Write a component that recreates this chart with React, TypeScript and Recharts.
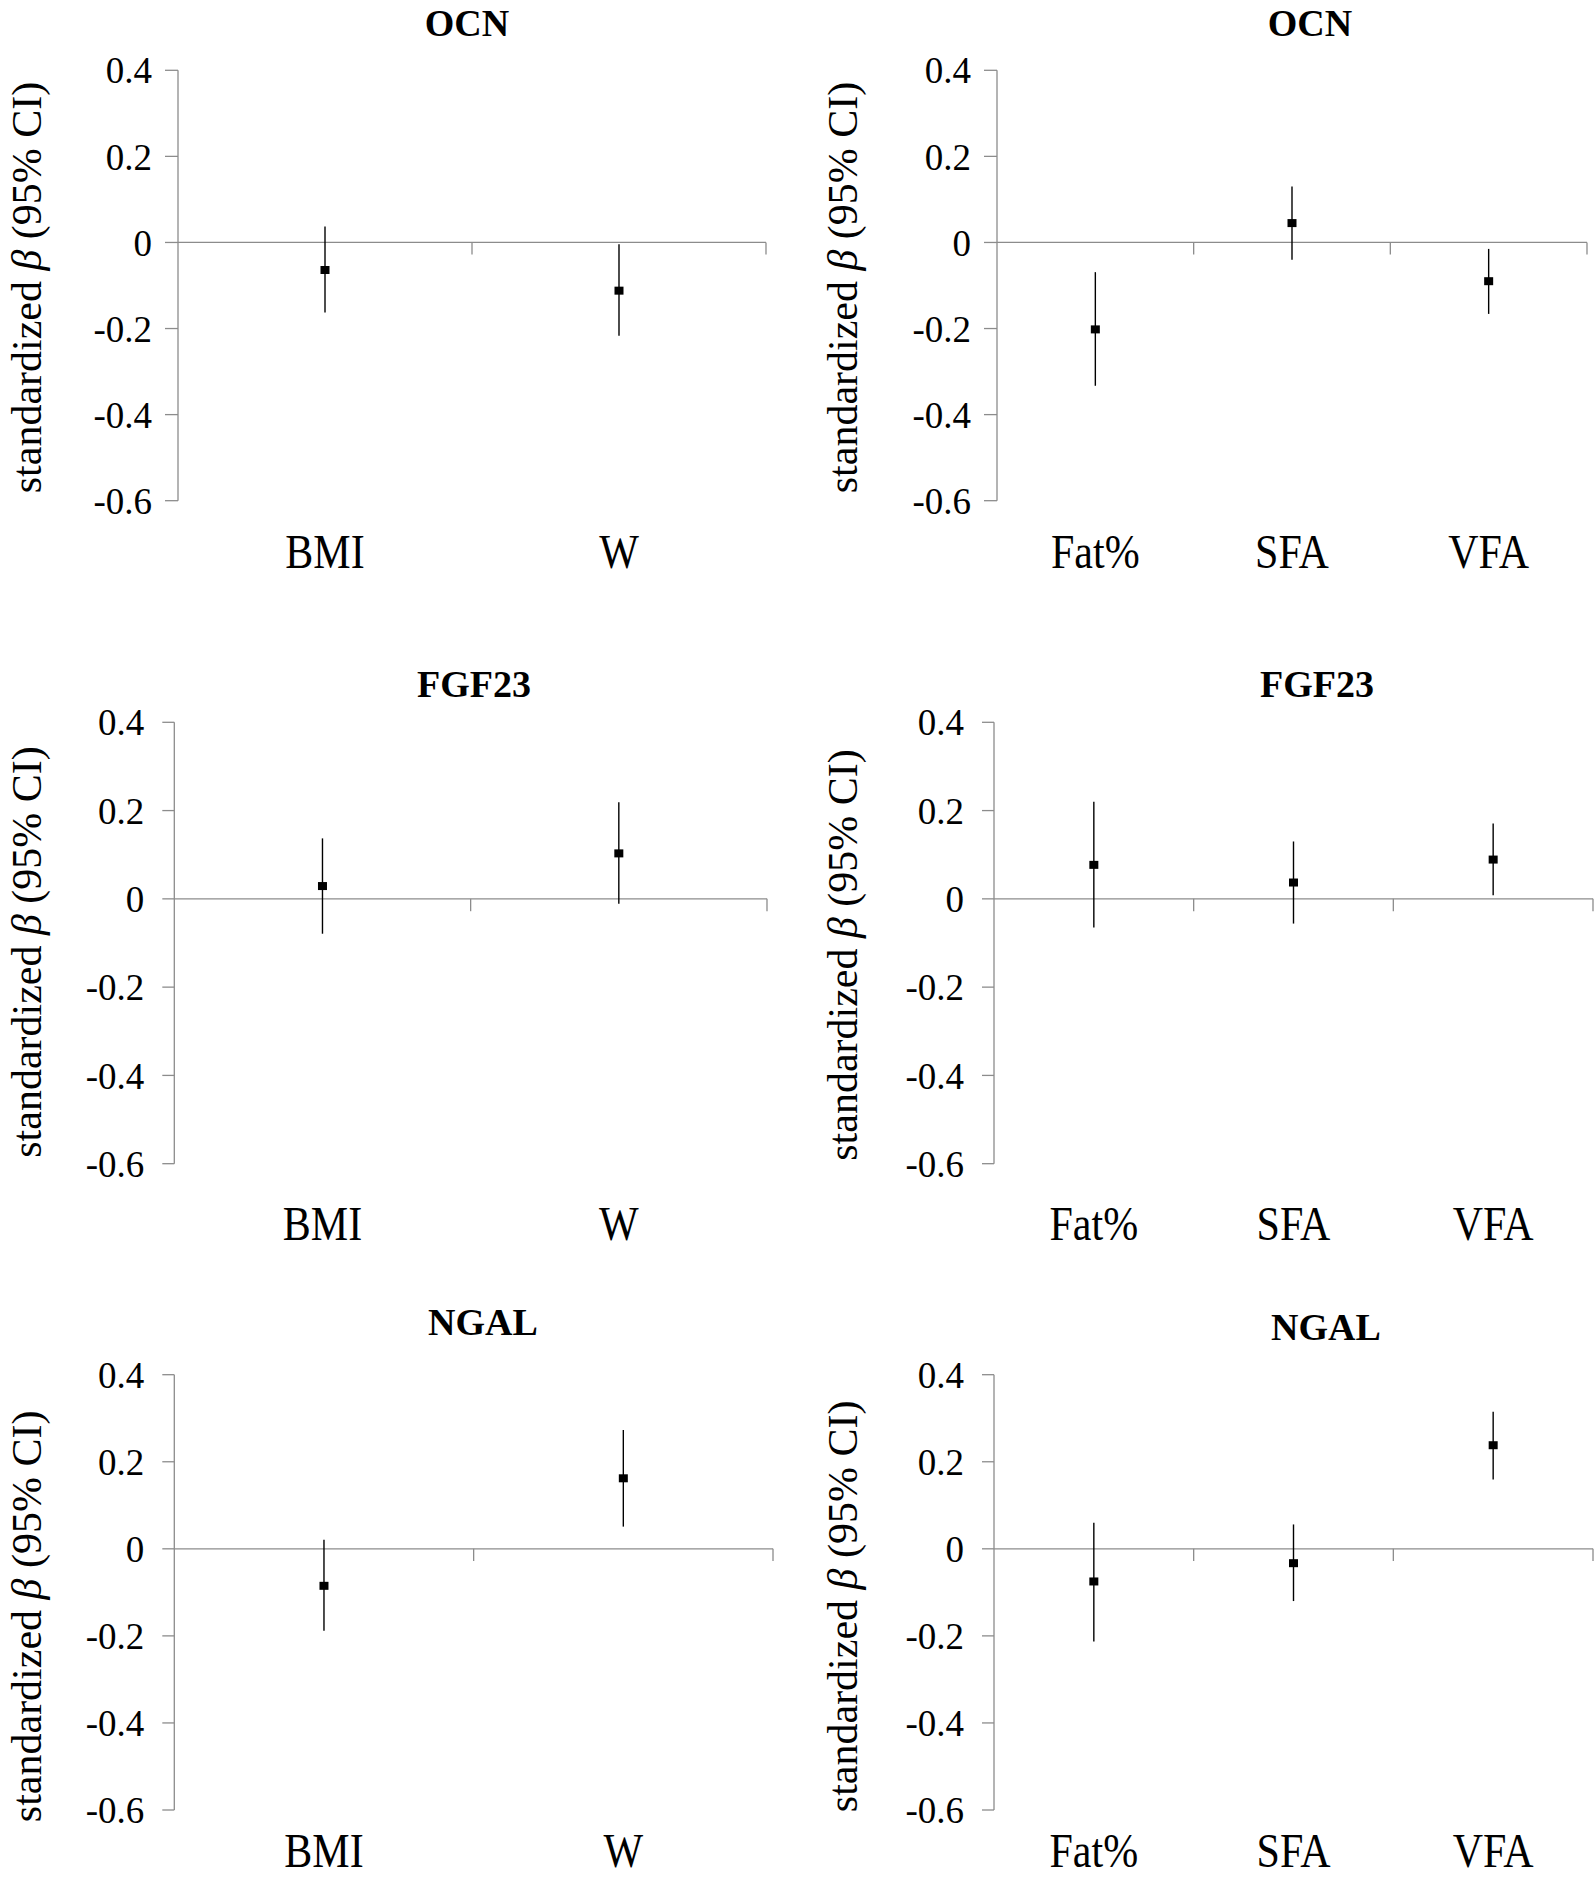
import React from "react";
import {
  ComposedChart,
  Scatter,
  ErrorBar,
  XAxis,
  YAxis,
  ReferenceLine,
} from "recharts";

const FONT = "'Liberation Serif', 'Times New Roman', serif";
const AXIS_GRAY = "#8c8c8c";
const TICK_LEN = 0.028; // boundary tick length on the zero line, in data units

const bodyCategories = ["BMI", "W"];
const fatCategories = ["Fat%", "SFA", "VFA"];
const yTicks = [-0.6, -0.4, -0.2, 0, 0.2, 0.4];

// OCN
const ocnBodyBeta = [-0.064, -0.112];
const ocnBodyLow = [-0.163, -0.217];
const ocnBodyHigh = [0.037, -0.004];
const ocnFatBeta = [-0.202, 0.045, -0.09];
const ocnFatLow = [-0.333, -0.04, -0.166];
const ocnFatHigh = [-0.069, 0.13, -0.015];

// FGF23
const fgfBodyBeta = [0.029, 0.103];
const fgfBodyLow = [-0.079, -0.011];
const fgfBodyHigh = [0.137, 0.219];
const fgfFatBeta = [0.077, 0.037, 0.089];
const fgfFatLow = [-0.065, -0.056, 0.008];
const fgfFatHigh = [0.22, 0.13, 0.171];

// NGAL
const ngalBodyBeta = [-0.085, 0.162];
const ngalBodyLow = [-0.188, 0.051];
const ngalBodyHigh = [0.021, 0.273];
const ngalFatBeta = [-0.075, -0.033, 0.238];
const ngalFatLow = [-0.213, -0.12, 0.159];
const ngalFatHigh = [0.06, 0.056, 0.315];

function buildRows(cats: string[], beta: number[], low: number[], high: number[]) {
  return cats.map((name, i) => ({
    name,
    x: i + 0.5,
    y: beta[i],
    err: [beta[i] - low[i], high[i] - beta[i]],
  }));
}

const SquareMark = (props: any) => {
  const { cx, cy } = props;
  if (cx == null || cy == null) return null;
  return <rect x={cx - 4.5} y={cy - 4} width={9} height={8} fill="#000" />;
};

const makeYLabel = (baseX: number, shift: number) => (props: any) => {
  const vb = props.viewBox || {};
  const x = (vb.x ?? 0) + baseX;
  const y = (vb.y ?? 0) + (vb.height ?? 0) / 2 + shift;
  return (
    <text
      x={x}
      y={y}
      transform={`rotate(-90 ${x} ${y})`}
      textAnchor="middle"
      fontFamily={FONT}
      fontSize={42}
      fill="#000"
    >
      standardized <tspan fontStyle="italic">β</tspan> (95% CI)
    </text>
  );
};

const makeCategoryTick = (cats: string[], baseline: number) => (props: any) => {
  const { x, y, payload } = props;
  const name = cats[Math.floor(payload.value)] ?? "";
  return (
    <g transform={`translate(${x} ${y + baseline}) scale(1 1.14)`}>
      <text x={0} y={0} textAnchor="middle" fontFamily={FONT} fontSize={42} fill="#000">
        {name}
      </text>
    </g>
  );
};

type Panel = {
  title: string;
  cats: string[];
  beta: number[];
  low: number[];
  high: number[];
  chartLeft: number;
  chartTop: number;
  chartWidth: number;
  plotLeft: number;
  plotRight: number;
  plotTop: number;
  plotBottom: number;
  titleX: number;
  titleY: number;
  tickSize: number;
  tickMargin: number;
  labelX: number;
  labelShift: number;
  xBaseline: number;
};

const panels: Panel[] = [
  {
    title: "OCN", cats: bodyCategories, beta: ocnBodyBeta, low: ocnBodyLow, high: ocnBodyHigh,
    chartLeft: 0, chartTop: 0, chartWidth: 800,
    plotLeft: 178, plotRight: 766, plotTop: 70.3, plotBottom: 500.7,
    titleX: 467, titleY: 23, tickSize: 13, tickMargin: 13, labelX: 41, labelShift: 2, xBaseline: 67,
  },
  {
    title: "OCN", cats: fatCategories, beta: ocnFatBeta, low: ocnFatLow, high: ocnFatHigh,
    chartLeft: 800, chartTop: 0, chartWidth: 795,
    plotLeft: 997, plotRight: 1587, plotTop: 70.3, plotBottom: 500.7,
    titleX: 1310, titleY: 23, tickSize: 13, tickMargin: 13, labelX: 57, labelShift: 2, xBaseline: 67,
  },
  {
    title: "FGF23", cats: bodyCategories, beta: fgfBodyBeta, low: fgfBodyLow, high: fgfBodyHigh,
    chartLeft: 0, chartTop: 640, chartWidth: 800,
    plotLeft: 174.3, plotRight: 767, plotTop: 722.3, plotBottom: 1163.7,
    titleX: 474, titleY: 684, tickSize: 12, tickMargin: 18, labelX: 41, labelShift: 9, xBaseline: 76,
  },
  {
    title: "FGF23", cats: fatCategories, beta: fgfFatBeta, low: fgfFatLow, high: fgfFatHigh,
    chartLeft: 800, chartTop: 640, chartWidth: 795,
    plotLeft: 994, plotRight: 1593, plotTop: 722.3, plotBottom: 1163.7,
    titleX: 1317, titleY: 684, tickSize: 12, tickMargin: 18, labelX: 57, labelShift: 12, xBaseline: 76,
  },
  {
    title: "NGAL", cats: bodyCategories, beta: ngalBodyBeta, low: ngalBodyLow, high: ngalBodyHigh,
    chartLeft: 0, chartTop: 1290, chartWidth: 800,
    plotLeft: 174.3, plotRight: 773, plotTop: 1374.7, plotBottom: 1810,
    titleX: 483, titleY: 1322, tickSize: 12, tickMargin: 18, labelX: 41, labelShift: 24, xBaseline: 57,
  },
  {
    title: "NGAL", cats: fatCategories, beta: ngalFatBeta, low: ngalFatLow, high: ngalFatHigh,
    chartLeft: 800, chartTop: 1290, chartWidth: 795,
    plotLeft: 994, plotRight: 1593, plotTop: 1374.7, plotBottom: 1810,
    titleX: 1326, titleY: 1327, tickSize: 12, tickMargin: 18, labelX: 57, labelShift: 14, xBaseline: 57,
  },
];

const X_AXIS_HEIGHT = 69;

function ForestPanel({ p }: { p: Panel }) {
  const rows = buildRows(p.cats, p.beta, p.low, p.high);
  const height = Math.min(p.plotBottom - p.chartTop + X_AXIS_HEIGHT + 20, 1879 - p.chartTop);
  const axisHeight = height - (p.plotBottom - p.chartTop);
  const n = p.cats.length;
  const centers = p.cats.map((_, i) => i + 0.5);
  return (
    <div style={{ position: "absolute", left: p.chartLeft, top: p.chartTop, width: p.chartWidth, height }}>
      <ComposedChart
        width={p.chartWidth}
        height={height}
        margin={{
          top: p.plotTop - p.chartTop,
          left: 0,
          right: p.chartWidth - (p.plotRight - p.chartLeft),
          bottom: 0,
        }}
      >
        <XAxis
          type="number"
          dataKey="x"
          domain={[0, n]}
          ticks={centers}
          allowDataOverflow
          axisLine={false}
          tickLine={false}
          tickSize={0}
          tickMargin={0}
          height={axisHeight}
          interval={0}
          tick={makeCategoryTick(p.cats, p.xBaseline)}
        />
        <YAxis
          type="number"
          dataKey="y"
          domain={[-0.6, 0.4]}
          ticks={yTicks}
          allowDataOverflow
          interval={0}
          width={p.plotLeft - p.chartLeft}
          tickSize={p.tickSize}
          tickMargin={p.tickMargin}
          axisLine={{ stroke: AXIS_GRAY, strokeWidth: 1.3 }}
          tickLine={{ stroke: AXIS_GRAY, strokeWidth: 1.3 }}
          tick={{ fill: "#000", fontSize: 37, fontFamily: FONT }}
          tickFormatter={(v: number) => (v === 0 ? "0" : v.toFixed(1))}
          label={makeYLabel(p.labelX, p.labelShift)}
        />
        <ReferenceLine y={0} stroke={AXIS_GRAY} strokeWidth={1.3} />
        {p.cats.map((_, i) => (
          <ReferenceLine
            key={i}
            segment={[
              { x: i + 1, y: 0 },
              { x: i + 1, y: -TICK_LEN },
            ]}
            stroke={AXIS_GRAY}
            strokeWidth={1.3}
          />
        ))}
        <Scatter data={rows} dataKey="y" shape={SquareMark} isAnimationActive={false}>
          <ErrorBar dataKey="err" direction="y" width={0} stroke="#000" strokeWidth={1.4} />
        </Scatter>
      </ComposedChart>
    </div>
  );
}

export default function App() {
  return (
    <div
      style={{
        position: "absolute",
        left: 0,
        top: 0,
        width: 1595,
        height: 1879,
        overflow: "hidden",
        background: "#fff",
      }}
    >
      {panels.map((p, i) => (
        <ForestPanel key={i} p={p} />
      ))}
      <svg
        width={1595}
        height={1879}
        style={{ position: "absolute", left: 0, top: 0, pointerEvents: "none" }}
      >
        {panels.map((p, i) => (
          <text
            key={i}
            x={p.titleX}
            y={p.titleY + 12.5}
            textAnchor="middle"
            fontFamily={FONT}
            fontWeight="bold"
            fontSize={38}
            fill="#000"
          >
            {p.title}
          </text>
        ))}
      </svg>
    </div>
  );
}
